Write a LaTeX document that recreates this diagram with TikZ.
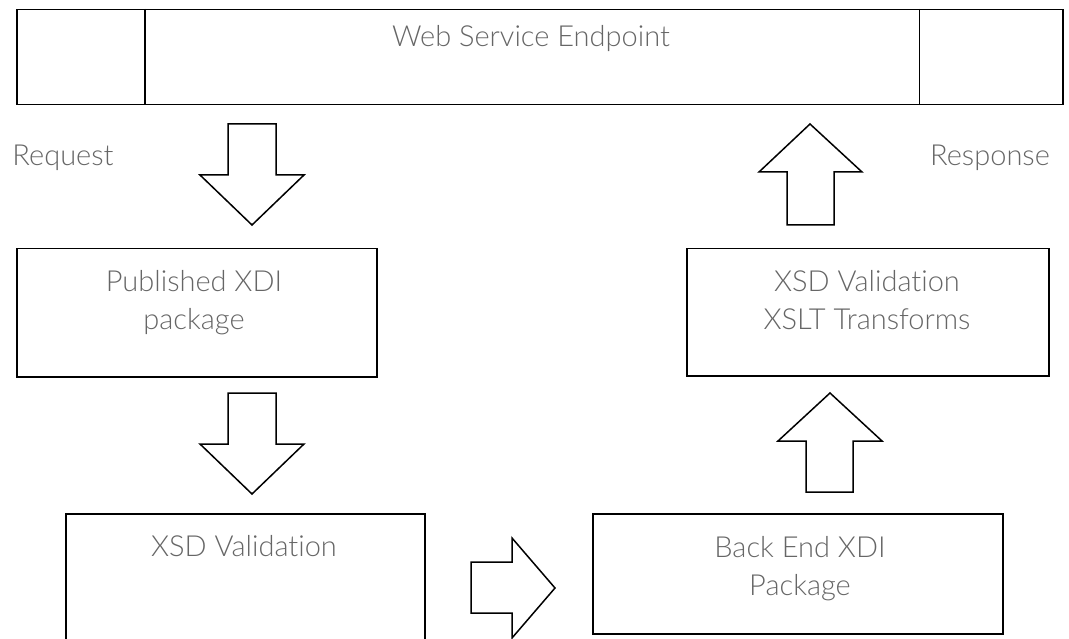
\documentclass[tikz,border=0pt]{standalone}
\usepackage{fontspec}
\setmainfont{Lato}[UprightFont=* Light,RawFeature={-liga;-clig;-dlig}]
\definecolor{txtgray}{HTML}{666666}
\begin{document}
\begin{tikzpicture}[x=1pt,y=-1pt,
  box/.style={draw=black,line width=1.5pt,rectangle,inner sep=0pt,anchor=north west},
  lbl/.style={text=txtgray,font=\fontsize{29}{34}\selectfont,anchor=base,inner sep=0pt},
  blk/.style={draw=black,line width=1.5pt,line join=miter,fill=white}]
\useasboundingbox (0,0) rectangle (1069,639);
\clip (0,0) rectangle (1069,639);
% boxes
\node[box,minimum width=1046pt,minimum height=95pt] (web) at (16,9) {};
\draw[line width=1.5pt] ([xshift=129pt]web.north west) -- ([xshift=129pt]web.south west);
\draw[line width=1.5pt] ([xshift=-144pt]web.north east) -- ([xshift=-144pt]web.south east);
\node[box,minimum width=360pt,minimum height=128pt] (pub) at (16,248) {};
\node[box,minimum width=362pt,minimum height=127pt] (xslt) at (686,248) {};
\node[box,minimum width=359pt,minimum height=150pt] (xsd) at (65,513) {};
\node[box,minimum width=410pt,minimum height=120pt] (back) at (592,513) {};
% texts
\node[lbl] (tweb) at (531,47) {Web Service Endpoint};
\node[lbl] (treq) at (63,166) {Request};
\node[lbl] (tresp) at (990,166) {Response};
\node[lbl] (tpub1) at (194,292) {Published XDI};
\node[lbl] (tpub2) at (194,330) {package};
\node[lbl] (tx1) at (867,291) {XSD Validation};
\node[lbl] (tx2) at (867,330) {XSLT Transforms};
\node[lbl] (txsd) at (244,556) {XSD Validation};
\node[lbl] (tb1) at (800,557) {Back End XDI};
\node[lbl] (tb2) at (800,595) {Package};
% block arrows
\draw[blk] (228,124) -- (276,124) -- (276,175) -- (304,175) -- (252,225) -- (200,175) -- (228,175) -- cycle;
\draw[blk] (228,393) -- (276,393) -- (276,444) -- (304,444) -- (252,494) -- (200,444) -- (228,444) -- cycle;
\draw[blk] (810,124) -- (862,172) -- (834,172) -- (834,225) -- (787,225) -- (787,172) -- (759,172) -- cycle;
\draw[blk] (830,393) -- (882,441) -- (853,441) -- (853,492) -- (806,492) -- (806,441) -- (778,441) -- cycle;
\draw[blk] (471,562) -- (512,562) -- (512,538) -- (555,588) -- (512,638) -- (512,613) -- (471,613) -- cycle;
\end{tikzpicture}
\end{document}
